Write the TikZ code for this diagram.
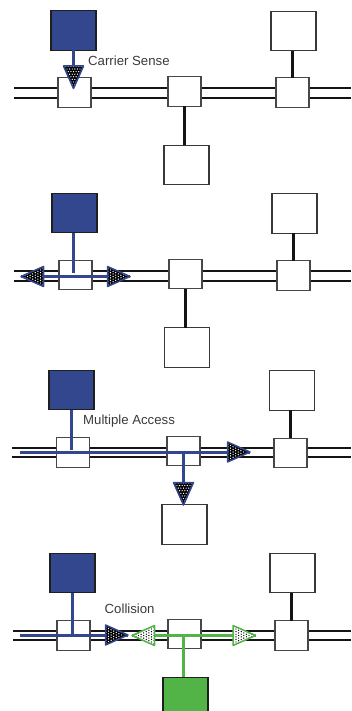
\documentclass[tikz,border=0pt]{standalone}
\usepackage{fontspec}
\setmainfont{Liberation Sans}
\definecolor{netblue}{HTML}{33478F}
\definecolor{netgreen}{HTML}{52B447}
\definecolor{labelgrey}{HTML}{3A3A3A}
\tikzset{
  x=1bp,y=-1bp,
  bus/.style={line width=1.8bp,black!92},
  link/.style={line width=2.4bp,black!92},
  tapbox/.style={draw=black!72,fill=white,line width=1.4bp,minimum width=33bp,minimum height=29.5bp,inner sep=0,outer sep=0},
  hostbox/.style={draw=black!78,fill=white,line width=1.4bp,minimum width=45bp,minimum height=39.5bp,inner sep=0,outer sep=0},
  bluehost/.style={hostbox,fill=netblue,draw=black!88},
  greenhost/.style={hostbox,fill=netgreen,draw=black!88},
  bluesig/.style={line width=3bp,netblue},
  greensig/.style={line width=3bp,netgreen},
  lab/.style={font=\fontsize{13.2bp}{15bp}\selectfont,text=labelgrey,anchor=west,inner sep=0}
}
% tip coordinate, rotation, outline colour, ground colour, dot colour
\newcommand{\sigtri}[5]{%
  \begin{scope}[shift={(#1)},rotate=#2]
    \fill[#4] (0,0) -- (-22.5,10) -- (-22.5,-10) -- cycle;
    \begin{scope}
      \clip (0,0) -- (-22.5,10) -- (-22.5,-10) -- cycle;
      \foreach \i in {0,...,8}{\foreach \j in {-5,...,5}{
        \fill[#5] ({-1.3-2.6*\i},{2.6*\j+1.3*mod(\i,2)}) circle (0.7);
      }}
    \end{scope}
    \draw[#3,line width=1.5bp,line join=round] (0,0) -- (-22.5,10) -- (-22.5,-10) -- cycle;
  \end{scope}}
\begin{document}
\begin{tikzpicture}
\useasboundingbox (0,0) rectangle (351,711);
\clip (0,0) rectangle (351,711);
% ---------- panel 1
\coordinate (aL1) at (14,88); \coordinate (aR1) at (351,88);
\coordinate (bL1) at (14,98); \coordinate (bR1) at (351,98);
\draw[bus] (aL1) -- (aR1); \draw[bus] (bL1) -- (bR1);
\node[bluehost] (h1) at (73.5,30.5) {};
\node[tapbox] (t1) at (74.5,92.5) {};
\node[tapbox] (m1) at (184.5,91.5) {};
\node[tapbox] (r1) at (292.5,92.5) {};
\node[hostbox] (d1) at (186.5,165) {};
\node[hostbox] (u1) at (293.5,31) {};
\draw[link] (m1.south) -- (m1.south |- d1.north);
\draw[link,xshift=-1bp] (r1.north) -- (r1.north |- u1.south);
\coordinate (tipA1) at (73.5,88.5);
\draw[bluesig] (h1.south) -- (73.5,70);
\sigtri{tipA1}{-90}{netblue}{black}{white}
\node[lab] (cs) at (88,61) {Carrier Sense};
% ---------- panel 2
\coordinate (aL2) at (14,271); \coordinate (aR2) at (351,271);
\coordinate (bL2) at (14,281); \coordinate (bR2) at (351,281);
\draw[bus] (aL2) -- (aR2); \draw[bus] (bL2) -- (bR2);
\node[bluehost] (h2) at (74.5,213) {};
\node[tapbox] (t2) at (75.5,275) {};
\node[tapbox] (m2) at (185.5,274) {};
\node[tapbox] (r2) at (293.5,275.5) {};
\node[hostbox] (d2) at (187,347.5) {};
\node[hostbox] (u2) at (294.5,213.5) {};
\draw[link] (m2.south) -- (m2.south |- d2.north);
\draw[link,xshift=-1bp] (r2.north) -- (r2.north |- u2.south);
\coordinate (tipL2) at (21,276.5);
\coordinate (tipR2) at (130,276.5);
\coordinate (j2) at (73.5,273);
\draw[bluesig] (h2.south -| j2) -- (j2);
\draw[bluesig] (tipL2) -- (tipR2);
\sigtri{tipL2}{180}{netblue}{black}{white}
\sigtri{tipR2}{0}{netblue}{black}{white}
% ---------- panel 3
\coordinate (aL3) at (12,448); \coordinate (aR3) at (351,448);
\coordinate (bL3) at (12,457); \coordinate (bR3) at (351,457);
\draw[bus] (aL3) -- (aR3); \draw[bus] (bL3) -- (bR3);
\node[bluehost] (h3) at (71.5,390) {};
\node[tapbox] (t3) at (73,452.5) {};
\node[tapbox] (m3) at (183.5,451) {};
\node[tapbox] (r3) at (290.5,453) {};
\node[hostbox] (d3) at (184.5,524.5) {};
\node[hostbox] (u3) at (292,390.5) {};
\draw[link,xshift=-1.5bp] (r3.north) -- (r3.north |- u3.south);
\coordinate (sL3) at (20,452);
\coordinate (j3) at (183.5,452);
\coordinate (tipR3) at (250,452);
\coordinate (tipD3) at (183.5,505);
\draw[bluesig] (h3.south) -- (71.5,450);
\draw[bluesig] (sL3) -- (tipR3);
\draw[bluesig] (j3) -- (183.5,487);
\sigtri{tipR3}{0}{netblue}{black}{white}
\sigtri{tipD3}{-90}{netblue}{black}{white}
\node[lab] (ma) at (83,421.5) {Multiple Access};
% ---------- panel 4
\coordinate (aL4) at (13,631); \coordinate (aR4) at (351,631);
\coordinate (bL4) at (13,640); \coordinate (bR4) at (351,640);
\draw[bus] (aL4) -- (aR4); \draw[bus] (bL4) -- (bR4);
\node[bluehost] (h4) at (72.5,573) {};
\node[tapbox] (t4) at (73.5,635.5) {};
\node[tapbox] (m4) at (184.5,634) {};
\node[tapbox] (r4) at (291.5,635.5) {};
\node[greenhost] (d4) at (185.5,697) {};
\node[hostbox] (u4) at (292.5,573) {};
\draw[link,xshift=-1.5bp] (r4.north) -- (r4.north |- u4.south);
\coordinate (sL4) at (20,635);
\coordinate (tipB4) at (128,635);
\coordinate (tipG4) at (132,635.5);
\coordinate (tipH4) at (255.5,635.5);
\coordinate (j4) at (183.5,635.5);
\draw[bluesig] (h4.south) -- (72.5,634);
\draw[bluesig] (sL4) -- (tipB4);
\draw[greensig] (tipG4) -- (tipH4);
\draw[greensig] (j4) -- (d4.north -| j4);
\sigtri{tipB4}{0}{netblue}{black}{white}
\sigtri{tipG4}{180}{netgreen}{white}{black}
\sigtri{tipH4}{0}{netgreen}{white}{black}
\node[lab] (co) at (104.5,609) {Collision};
\end{tikzpicture}
\end{document}
